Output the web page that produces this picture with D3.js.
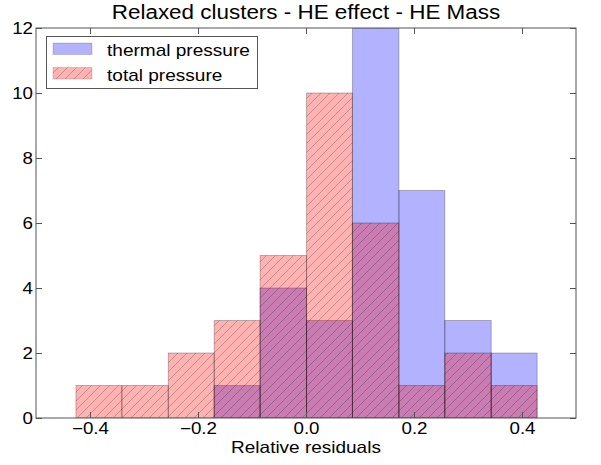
<!DOCTYPE html>
<html>
<head>
<meta charset="utf-8">
<script src="https://cdn.jsdelivr.net/npm/d3@7"></script>
<style>
  html, body { margin: 0; padding: 0; background: #fff; }
  svg { display: block; font-family: "Liberation Sans", Arial, sans-serif; }
</style>
</head>
<body>
<svg id="chart" width="601" height="465"></svg>
<script>
// Shared histogram bin edges (relative residuals)
const binEdges = [-0.426, -0.341, -0.255, -0.170, -0.085, 0.001, 0.086, 0.172, 0.257, 0.343, 0.428];
// Counts per bin
const thermalCounts = [0, 0, 0, 1, 4, 3, 12, 7, 3, 2];
const totalCounts   = [1, 1, 2, 3, 5, 10, 6, 1, 2, 1];
const seriesNames = ["thermal pressure", "total pressure"];
const xTicks = [-0.4, -0.2, 0.0, 0.2, 0.4];
const yTicks = [0, 2, 4, 6, 8, 10, 12];

const svg = d3.select("#chart");
const margin = { left: 36, right: 25, top: 28, bottom: 47 };
const W = 601, H = 465;
const x = d3.scaleLinear().domain([-0.5, 0.5]).range([margin.left, W - margin.right]);
const y = d3.scaleLinear().domain([0, 12]).range([H - margin.bottom, margin.top]);

// text is drawn slightly wide
const widen = 1.15;
function stretch(sel, factor) {
  sel.each(function () {
    const w = this.getComputedTextLength();
    d3.select(this).attr("textLength", w * factor).attr("lengthAdjust", "spacingAndGlyphs");
  });
}

// hatch pattern for the total-pressure bars
const defs = svg.append("defs");
const pat = defs.append("pattern")
  .attr("id", "hatch")
  .attr("patternUnits", "userSpaceOnUse")
  .attr("width", 9).attr("height", 9);
pat.append("path")
  .attr("d", "M-2,11 L11,-2 M-2,2 L2,-2 M7,11 L11,7")
  .attr("stroke", "#000").attr("stroke-opacity", 0.28).attr("stroke-width", 0.8);

const clip = defs.append("clipPath").attr("id", "plotclip");
clip.append("rect")
  .attr("x", margin.left).attr("y", margin.top)
  .attr("width", W - margin.left - margin.right)
  .attr("height", H - margin.top - margin.bottom);

const plot = svg.append("g").attr("clip-path", "url(#plotclip)");

function bins(counts) {
  return counts.map((c, i) => ({ x0: binEdges[i], x1: binEdges[i + 1], c }));
}

// thermal pressure (blue)
plot.append("g").selectAll("rect")
  .data(bins(thermalCounts).filter(d => d.c > 0))
  .join("rect")
  .attr("x", d => x(d.x0)).attr("width", d => x(d.x1) - x(d.x0))
  .attr("y", d => y(d.c)).attr("height", d => y(0) - y(d.c))
  .attr("fill", "rgb(0,0,255)").attr("fill-opacity", 0.3)
  .attr("stroke", "#000").attr("stroke-opacity", 0.25).attr("stroke-width", 1);

// total pressure (red, hatched)
const redG = plot.append("g");
const redBins = bins(totalCounts).filter(d => d.c > 0);
redG.selectAll("rect.fill")
  .data(redBins)
  .join("rect").attr("class", "fill")
  .attr("x", d => x(d.x0)).attr("width", d => x(d.x1) - x(d.x0))
  .attr("y", d => y(d.c)).attr("height", d => y(0) - y(d.c))
  .attr("fill", "rgb(255,0,0)").attr("fill-opacity", 0.3);
redG.selectAll("rect.hatch")
  .data(redBins)
  .join("rect").attr("class", "hatch")
  .attr("x", d => x(d.x0)).attr("width", d => x(d.x1) - x(d.x0))
  .attr("y", d => y(d.c)).attr("height", d => y(0) - y(d.c))
  .attr("fill", "url(#hatch)")
  .attr("stroke", "#000").attr("stroke-opacity", 0.25).attr("stroke-width", 1);

// axes with inward ticks on all four sides
const tickLen = 6;
const axG = svg.append("g");
axG.append("g")
  .attr("transform", `translate(0,${y(0)})`)
  .call(d3.axisBottom(x).tickValues(xTicks).tickSizeInner(-tickLen).tickSizeOuter(0).tickPadding(4).tickFormat(d3.format(".1f")));
axG.append("g")
  .attr("transform", `translate(0,${y(12)})`)
  .call(d3.axisTop(x).tickValues(xTicks).tickSizeInner(-tickLen).tickSizeOuter(0).tickFormat(""));
axG.append("g")
  .attr("transform", `translate(${x(-0.5)},0)`)
  .call(d3.axisLeft(y).tickValues(yTicks).tickSizeInner(-tickLen).tickSizeOuter(0).tickPadding(3).tickFormat(d3.format("d")));
axG.append("g")
  .attr("transform", `translate(${x(0.5)},0)`)
  .call(d3.axisRight(y).tickValues(yTicks).tickSizeInner(-tickLen).tickSizeOuter(0).tickFormat(""));
axG.selectAll(".domain").remove();
axG.selectAll(".tick line").attr("stroke", "#555");
axG.selectAll(".tick text").attr("font-size", 16.3).attr("fill", "#000")
  .attr("font-family", "Liberation Sans, Arial, sans-serif");
stretch(axG.selectAll(".tick text"), widen);

// frame
svg.append("rect")
  .attr("x", x(-0.5)).attr("y", y(12))
  .attr("width", x(0.5) - x(-0.5)).attr("height", y(0) - y(12))
  .attr("fill", "none").attr("stroke", "#555").attr("stroke-width", 1);

// title and axis label
svg.append("text")
  .attr("x", (x(-0.5) + x(0.5)) / 2).attr("y", 18.5)
  .attr("text-anchor", "middle").attr("font-size", 19.5)
  .text("Relaxed clusters - HE effect - HE Mass")
  .call(stretch, widen);
svg.append("text")
  .attr("x", (x(-0.5) + x(0.5)) / 2).attr("y", 452.5)
  .attr("text-anchor", "middle").attr("font-size", 16.5)
  .text("Relative residuals")
  .call(stretch, widen);

// legend
const lg = svg.append("g");
lg.append("rect")
  .attr("x", 46.5).attr("y", 36.5).attr("width", 211).attr("height", 52)
  .attr("fill", "#fff").attr("stroke", "#555").attr("stroke-width", 1);
const legendItems = [
  { name: seriesNames[0], fill: "rgb(0,0,255)", hatch: false },
  { name: seriesNames[1], fill: "rgb(255,0,0)", hatch: true }
];
legendItems.forEach((it, i) => {
  const yy = 43 + i * 24.5;
  lg.append("rect").attr("x", 53).attr("y", yy).attr("width", 39).attr("height", 11.5)
    .attr("fill", it.fill).attr("fill-opacity", 0.3)
    .attr("stroke", "#000").attr("stroke-opacity", 0.15);
  if (it.hatch) {
    lg.append("rect").attr("x", 53).attr("y", yy).attr("width", 39).attr("height", 11.5)
      .attr("fill", "url(#hatch)");
  }
  lg.append("text").attr("x", 107).attr("y", yy + 13)
    .attr("font-size", 17).text(it.name)
    .call(stretch, 1.12);
});
</script>
</body>
</html>
